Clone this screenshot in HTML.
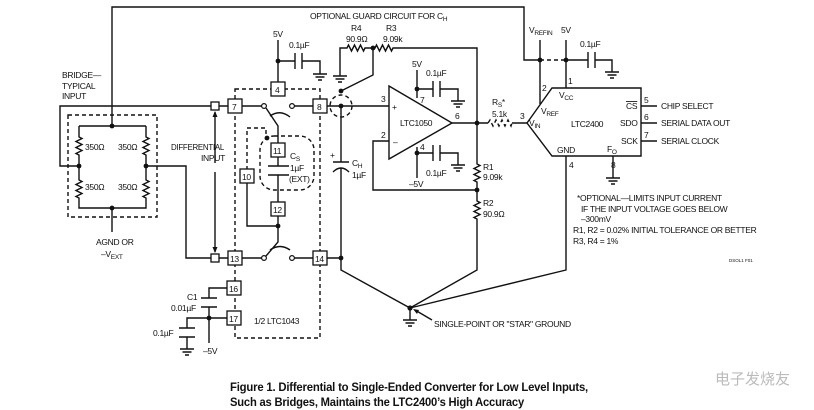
<!DOCTYPE html>
<html><head><meta charset="utf-8"><style>
html,body{margin:0;padding:0;background:#fff}
svg{display:block}
text{font-family:"Liberation Sans Narrow","Liberation Sans",sans-serif;font-size:8.5px;letter-spacing:-0.3px;fill:#111}
.s{font-size:6.5px}
.cap{font-size:11.5px;font-weight:bold;letter-spacing:-0.2px}
.tiny{font-size:4.5px;letter-spacing:0}
.wm{font-size:15px;fill:#bbb;font-family:"Noto Sans CJK SC",sans-serif;letter-spacing:0}
.b{fill:none;stroke:#111;stroke-width:1.4}
.d{fill:none;stroke:#111;stroke-width:1.4;stroke-dasharray:4,3}
.bx{fill:#fff;stroke:#111;stroke-width:1.3}
.dot{fill:#111}
</style></head><body>
<svg width="814" height="410" viewBox="0 0 814 410" xmlns="http://www.w3.org/2000/svg">
<defs>
<g id="gnd"><path class="b" d="M0 0 V4 M-7 4 H7 M-4.5 7 H4.5 M-2 10 H2"/></g>
<path id="rv" class="b" d="M0 0 v2 l3 1.5 l-6 3 l6 3 l-6 3 l6 3 l-6 3 l3 1.5 v2"/>
<path id="rh" class="b" d="M0 0 h2 l1.5 -3 l3 6 l3 -6 l3 6 l3 -6 l3 6 l1.5 -3 h2"/>
</defs>

<path class="b" d="M112 126 V7 H524 V60 H540"/>
<path class="d" d="M540 60 H566"/>
<circle class="dot" cx="540" cy="60" r="2.4"/><circle class="dot" cx="566" cy="60" r="2.4"/>
<path class="b" d="M540 40 V104 M566 40 V88 M566 60 H588 M588 52 V68 M595 52 V68 M595 60 H612 V68"/>
<use href="#gnd" x="612" y="68"/>
<text x="529" y="33">V<tspan class="s" dy="2">REFIN</tspan></text>
<text x="561" y="33">5V</text><text x="580" y="47">0.1µF</text>

<rect class="d" x="68" y="115" width="89" height="102"/>
<path class="b" d="M79 126 H146 M79 126 V135 M79 157 V178 M79 200 V208 H146 V200 M146 178 V157 M146 135 V126"/>
<use href="#rv" x="79" y="135"/><use href="#rv" x="79" y="178"/>
<use href="#rv" x="146" y="135"/><use href="#rv" x="146" y="178"/>
<circle class="dot" cx="112" cy="126" r="2.4"/><circle class="dot" cx="79" cy="166" r="2.4"/>
<circle class="dot" cx="146" cy="166" r="2.4"/><circle class="dot" cx="112" cy="208" r="2.4"/>
<text x="85" y="150">350Ω</text><text x="118" y="150">350Ω</text>
<text x="85" y="190">350Ω</text><text x="118" y="190">350Ω</text>
<path class="b" d="M112 208 V232 M79 166 H60 V106 H211 M146 166 H186 V258 H211"/>
<text x="96" y="245">AGND OR</text><text x="101" y="257">–V<tspan class="s" dy="2">EXT</tspan></text>
<text x="62" y="78">BRIDGE—</text><text x="62" y="89">TYPICAL</text><text x="62" y="99">INPUT</text>
<rect class="bx" x="211" y="102" width="8" height="8"/><rect class="bx" x="211" y="254" width="8" height="8"/>
<path class="b" d="M215 163 V112 M215 172 V252" stroke-width="1"/>
<path class="dot" d="M215 111 l-2.5 6 h5z M215 253 l-2.5 -6 h5z"/>
<text x="171" y="150" textLength="53" lengthAdjust="spacingAndGlyphs">DIFFERENTIAL</text><text x="201" y="161">INPUT</text>

<rect class="d" x="235" y="89" width="85" height="249"/>
<path class="b" d="M219 106 H262 M294 106 H314 M219 258 H262 M294 258 H314"/>
<circle cx="264" cy="106" r="2.4" fill="#fff" stroke="#111" stroke-width="1.2"/>
<circle cx="292" cy="106" r="2.4" fill="#fff" stroke="#111" stroke-width="1.2"/>
<circle cx="264" cy="258" r="2.4" fill="#fff" stroke="#111" stroke-width="1.2"/>
<circle cx="292" cy="258" r="2.4" fill="#fff" stroke="#111" stroke-width="1.2"/>
<path class="b" d="M266 108 L278 126 V144 M270 116 Q280 109 290 117"/>
<path class="b" d="M278 156 V166 M268 166 H289 M268 175 H289 M278 175 V203 M278 214 V242 L266 256 M270 250 Q280 243 290 250"/>
<path class="b" d="M247 182 V226 H278"/>
<circle class="dot" cx="278" cy="226" r="2.4"/>
<path class="d" d="M247 170 V128 H266 V136"/>
<circle class="dot" cx="267" cy="138" r="2.4"/>
<rect class="d" x="260" y="136" width="54" height="54" rx="14"/>
<path class="b" d="M278 78 V83 M278 40 V78 M278 61 H295 M295 53 V69 M302 53 V69 M302 61 H320 V70"/>
<circle class="dot" cx="278" cy="61" r="2.4"/>
<use href="#gnd" x="320" y="70"/>
<text x="273" y="37">5V</text><text x="289" y="48">0.1µF</text>
<rect class="bx" x="271" y="82" width="14" height="14"/><text x="275" y="93">4</text>
<rect class="bx" x="228" y="99" width="14" height="14"/><text x="232" y="110">7</text>
<rect class="bx" x="313" y="99" width="14" height="14"/><text x="317" y="110">8</text>
<rect class="bx" x="271" y="143" width="14" height="14"/><text x="273" y="154">11</text>
<rect class="bx" x="240" y="169" width="14" height="14"/><text x="242" y="180">10</text>
<rect class="bx" x="271" y="202" width="14" height="14"/><text x="273" y="213">12</text>
<rect class="bx" x="228" y="251" width="14" height="14"/><text x="230" y="262">13</text>
<rect class="bx" x="313" y="251" width="14" height="14"/><text x="315" y="262">14</text>
<rect class="bx" x="227" y="281" width="14" height="14"/><text x="229" y="292">16</text>
<rect class="bx" x="227" y="311" width="14" height="14"/><text x="229" y="322">17</text>
<text x="290" y="159">C<tspan class="s" dy="2">S</tspan></text>
<text x="290" y="171">1µF</text><text x="289" y="182">(EXT)</text>
<text x="254" y="324">1/2 LTC1043</text>
<path class="b" d="M227 288 H209 V298 M201 298 H217 M201 307 H217 M209 307 V343 M209 318 H227 M209 318 H187 V328 M179 328 H195 M179 337 H195 M187 337 V345"/>
<circle class="dot" cx="209" cy="318" r="2.4"/>
<use href="#gnd" x="187" y="345"/>
<text x="187" y="300">C1</text><text x="171" y="311">0.01µF</text><text x="153" y="336">0.1µF</text>
<text x="203" y="354">–5V</text>

<circle class="d" cx="341" cy="106" r="11" stroke-width="1.2"/>
<path class="b" d="M327 106 H389 M341 106 V162 M333 162 H349 M333 172 Q341 164 349 172 M341 168 V270 L410 308 M327 258 H341"/>
<circle class="dot" cx="341" cy="106" r="2.4"/><circle class="dot" cx="341" cy="258" r="2.4"/>
<circle class="dot" cx="341" cy="91" r="2.4"/>
<text x="330" y="158">+</text>
<text x="352" y="166">C<tspan class="s" dy="2">H</tspan></text><text x="352" y="178">1µF</text>
<path class="b" d="M341 91 L373 75 V48 M340 72 V48 H345 M367 48 H373 M395 48 H477 V123"/>
<use href="#rh" x="345" y="48"/><use href="#rh" x="373" y="48"/>
<circle class="dot" cx="373" cy="48" r="2.4"/>
<use href="#gnd" x="340" y="72"/>
<text x="310" y="19">OPTIONAL GUARD CIRCUIT FOR C<tspan class="s" dy="2">H</tspan></text>
<text x="351" y="31">R4</text><text x="346" y="42">90.9Ω</text>
<text x="386" y="31">R3</text><text x="383" y="42">9.09k</text>

<path class="b" d="M389 86 L452 123 L389 159 Z"/>
<text x="392" y="110">+</text><text x="393" y="145">–</text>
<text x="400" y="126">LTC1050</text>
<text x="381" y="102">3</text><text x="381" y="138">2</text><text x="455" y="119">6</text>
<text x="420" y="103">7</text><text x="420" y="150">4</text>
<path class="b" d="M389 141 H373 V190 H477 M452 123 H488 M512 123 H527"/>
<path class="b" d="M417 70 V98 M417 89 H433 M433 81 V97 M440 81 V97 M440 89 H458 V97 M417 147 V178 M417 153 H433 M433 145 V161 M440 145 V161 M440 153 H458 V161"/>
<circle class="dot" cx="417" cy="89" r="2.4"/><circle class="dot" cx="417" cy="153" r="2.4"/>
<use href="#gnd" x="458" y="97"/><use href="#gnd" x="458" y="161"/>
<text x="412" y="67">5V</text><text x="426" y="76">0.1µF</text>
<text x="426" y="176">0.1µF</text><text x="409" y="187">–5V</text>
<circle class="dot" cx="477" cy="123" r="2.4"/><circle class="dot" cx="477" cy="190" r="2.4"/>
<path class="b" d="M477 123 V162 M477 184 V199 M477 221 V270 L410 308"/>
<use href="#rv" x="477" y="162"/><use href="#rv" x="477" y="199"/>
<text x="483" y="170">R1</text><text x="483" y="180">9.09k</text>
<text x="483" y="206">R2</text><text x="483" y="217">90.9Ω</text>
<path class="d" d="M488 123 l2 -3 l3 6 l3 -6 l3 6 l3 -6 l3 6 l3 -6 l3 6 l1 -3" stroke-dasharray="2,1.5"/>
<text x="492" y="105">R<tspan class="s" dy="2">S</tspan><tspan dy="-2">*</tspan></text><text x="492" y="117">5.1k</text>
<text x="520" y="119">3</text>

<path class="b" d="M527 123 L552 88 H641 V156 H552 Z"/>
<text x="568" y="84">1</text><text x="542" y="91">2</text><text x="569" y="168">4</text><text x="611" y="168">8</text>
<text x="559" y="98">V<tspan class="s" dy="2">CC</tspan></text>
<text x="541" y="114">V<tspan class="s" dy="2">REF</tspan></text>
<text x="529" y="126">V<tspan class="s" dy="2">IN</tspan></text>
<text x="571" y="127">LTC2400</text>
<text x="626" y="109" text-decoration="overline">CS</text><text x="620" y="126">SDO</text><text x="621" y="144">SCK</text>
<text x="557" y="153">GND</text><text x="607" y="152">F<tspan class="s" dy="2">O</tspan></text>
<path class="b" d="M641 106 H657 M641 123 H657 M641 141 H657 M566 156 V270 L410 308 M613 156 V174"/>
<use href="#gnd" x="613" y="174"/>
<text x="644" y="103">5</text><text x="644" y="120">6</text><text x="644" y="138">7</text>
<text x="661" y="109">CHIP SELECT</text><text x="661" y="126">SERIAL DATA OUT</text><text x="661" y="144">SERIAL CLOCK</text>

<text x="577" y="201">*OPTIONAL—LIMITS INPUT CURRENT</text>
<text x="581" y="212">IF THE INPUT VOLTAGE GOES BELOW</text>
<text x="581" y="222">–300mV</text>
<text x="573" y="233">R1, R2 = 0.02% INITIAL TOLERANCE OR BETTER</text>
<text x="573" y="244">R3, R4 = 1%</text>
<text x="729" y="262" class="tiny">DSOL1 F01</text>

<circle class="dot" cx="410" cy="308" r="2.6"/>
<path class="b" d="M410 308 V316"/><use href="#gnd" x="410" y="316"/>
<path class="b" d="M432 320 L415 310" stroke-width="1"/><path class="dot" d="M413 309 l6 1 l-2 4z"/>
<text x="434" y="327">SINGLE-POINT OR "STAR" GROUND</text>

<text x="230" y="391" class="cap" textLength="358" lengthAdjust="spacingAndGlyphs">Figure 1. Differential to Single-Ended Converter for Low Level Inputs,</text>
<text x="230" y="406" class="cap" textLength="294" lengthAdjust="spacingAndGlyphs">Such as Bridges, Maintains the LTC2400’s High Accuracy</text>
<text x="715" y="384" class="wm">电子发烧友</text>
</svg>
</body></html>
